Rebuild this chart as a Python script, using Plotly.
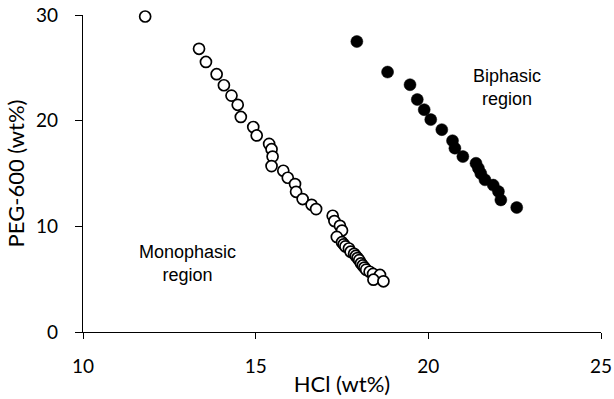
import plotly.graph_objects as go

mono_hcl = [11.8, 13.36, 13.56, 13.87, 14.08, 14.3, 14.48, 14.57, 14.93, 15.03,
            15.39, 15.46, 15.49, 15.46, 15.8, 15.93, 16.14, 16.17, 16.36, 16.62, 16.75,
            17.23, 17.28, 17.44, 17.5, 17.35,
            17.5, 17.55, 17.6, 17.7, 17.75, 17.85, 17.9, 17.95, 18.0, 18.05, 18.1,
            18.15, 18.2, 18.3, 18.4, 18.6, 18.41, 18.7]
mono_peg = [29.86, 26.8, 25.56, 24.4, 23.35, 22.37, 21.5, 20.35, 19.4, 18.6,
            17.8, 17.3, 16.6, 15.7, 15.26, 14.6, 14.0, 13.27, 12.58, 12.04, 11.63,
            11.0, 10.5, 10.05, 9.6, 9.0,
            8.5, 8.3, 8.1, 7.9, 7.6, 7.4, 7.2, 7.0, 6.8, 6.5, 6.3,
            6.1, 5.9, 5.7, 5.5, 5.4, 4.95, 4.8]

bi_hcl = [17.93, 18.82, 19.47, 19.68, 19.88, 20.07, 20.39, 20.7, 20.77, 21.0,
          21.38, 21.45, 21.52, 21.64, 21.88, 22.03, 22.1, 22.56]
bi_peg = [27.49, 24.6, 23.4, 22.0, 21.04, 20.1, 19.15, 18.1, 17.4, 16.6,
          15.97, 15.5, 15.0, 14.4, 13.9, 13.3, 12.5, 11.78]

x_ticks = [10, 15, 20, 25]
y_ticks = [0, 10, 20, 30]

fig = go.Figure()
fig.add_trace(go.Scatter(x=mono_hcl, y=mono_peg, mode="markers", cliponaxis=False,
                         marker=dict(symbol="circle", size=11, color="white",
                                     line=dict(color="black", width=1.7)),
                         showlegend=False))
fig.add_trace(go.Scatter(x=bi_hcl, y=bi_peg, mode="markers", cliponaxis=False,
                         marker=dict(symbol="circle", size=12, color="black",
                                     line=dict(color="black", width=0.5)),
                         showlegend=False))

tick_font = dict(family="Lato, Carlito, sans-serif", size=19, color="black")
title_font = dict(family="Lato, Carlito, sans-serif", size=22, color="black")
fig.update_xaxes(range=[10, 25], tickvals=x_ticks, showgrid=False, zeroline=False,
                 showline=True, linecolor="black", linewidth=1.4, automargin=False,
                 ticks="outside", ticklen=6, tickcolor="black", tickwidth=1.4,
                 tickfont=tick_font, ticklabeloverflow="allow", ticklabelstandoff=11,
                 title=dict(text="HCl (wt%)", font=title_font, standoff=0))
fig.update_yaxes(range=[0, 30], tickvals=y_ticks, showgrid=False, zeroline=False,
                 showline=True, linecolor="black", linewidth=1.4, automargin=False,
                 ticks="outside", ticklen=7, tickcolor="black", tickwidth=1.4,
                 tickfont=tick_font, ticklabeloverflow="allow", ticklabelstandoff=13,
                 title=dict(text="PEG-600 (wt%)", font=title_font, standoff=5))

ann_font = dict(family="Liberation Sans, Arial, sans-serif", size=18, color="black")
fig.add_annotation(x=13.04, y=6.5, text="Monophasic<br>region", showarrow=False,
                   font=ann_font, align="center")
fig.add_annotation(x=22.27, y=23.1, text="Biphasic<br>region", showarrow=False,
                   font=ann_font, align="center")

fig.update_layout(width=614, height=399, margin=dict(l=83, r=13, t=15, b=67),
                  plot_bgcolor="white", paper_bgcolor="white")
fig.write_html("out.html", config={"displayModeBar": False},
               post_script="document.body.style.margin='0';document.body.style.overflow='hidden';")
